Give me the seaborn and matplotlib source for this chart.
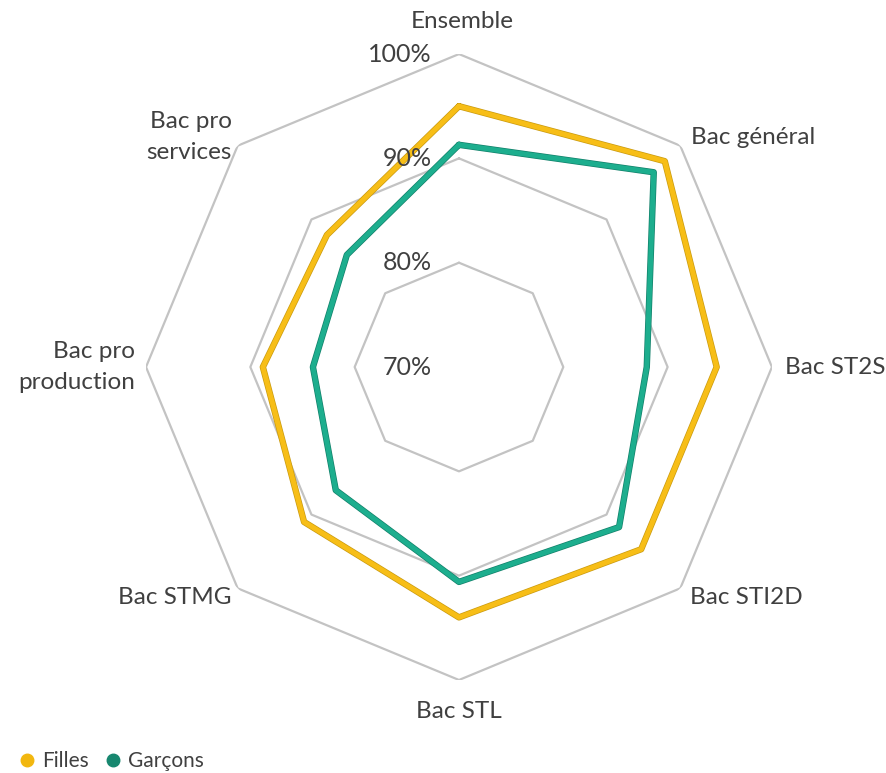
import numpy as np
import pandas as pd
import seaborn as sns
import matplotlib.pyplot as plt
import matplotlib.patheffects as pe
from matplotlib.lines import Line2D

# =========================
# DATA
# =========================
categories = ["Ensemble", "Bac général", "Bac ST2S", "Bac STI2D", "Bac STL",
              "Bac STMG", "Bac pro\nproduction", "Bac pro\nservices"]
filles = [95.0, 97.9, 94.7, 94.7, 94.0, 91.0, 88.8, 87.9]
garcons = [91.3, 96.4, 88.0, 91.7, 90.6, 86.7, 84.0, 85.2]
ring_values = [70, 80, 90, 100]
ring_labels = ["70%", "80%", "90%", "100%"]

series = {"Filles": filles, "Garçons": garcons}
colors = {"Filles": "#F7BE17", "Garçons": "#1DAE8E"}
edges = {"Filles": "#C99A10", "Garçons": "#12806A"}
legend_colors = {"Filles": "#F2B70F", "Garçons": "#17876F"}

# =========================
# LONG TABLE (closed polygons)
# =========================
n = len(categories)
angles = np.linspace(0, 2 * np.pi, n, endpoint=False)
rows = []
for name, vals in series.items():
    for i in range(n + 1):
        rows.append({"theta": angles[i % n] if i < n else 2 * np.pi,
                     "value": vals[i % n], "serie": name, "order": i})
df = pd.DataFrame(rows)

# =========================
# PLOT
# =========================
sns.set_theme(style="white")
plt.rcParams["font.family"] = ["Lato", "DejaVu Sans"]

fig = plt.figure(figsize=(8.87, 7.73), dpi=100)
ax = fig.add_axes([0.1646, 0.1203, 0.7057, 0.8098], projection="polar")
ax.set_theta_zero_location("N")
ax.set_theta_direction(-1)
ax.set_rlim(70, 100)
ax.grid(False)
ax.spines["polar"].set_visible(False)
ax.set_facecolor("none")

# octagonal grid
closed = np.append(angles, 2 * np.pi)
for rv in ring_values:
    ax.plot(closed, [rv] * len(closed), color="#C3C3C3", lw=1.6, zorder=1)

for name in series:
    sub = df[df["serie"] == name]
    sns.lineplot(data=sub, x="theta", y="value", sort=False, ax=ax,
                 color=colors[name], lw=3.6, legend=False, zorder=3,
                 path_effects=[pe.Stroke(linewidth=4.6, foreground=edges[name]),
                               pe.Normal()])
ax.set_xlabel("")
ax.set_ylabel("")
ax.set_xticks([])
ax.set_yticks([])
ax.set_rlim(70, 100)

# radial labels
for rv, lab in zip(ring_values, ring_labels):
    ax.annotate(lab, xy=(0, rv), xytext=(-27, 0), textcoords="offset pixels",
                ha="right", va="center", fontsize=18, color="#404040")

# category labels
offsets = [(3, 33, "center"), (11, 8, "left"), (13, 0, "left"), (10, -9, "left"),
           (0, -32, "center"), (-6, -9, "right"), (-11, 0, "right"), (-6, 9, "right")]
for ang, cat, (dx, dy, ha) in zip(angles, categories, offsets):
    ax.annotate(cat, xy=(ang, 100), xytext=(dx, dy), textcoords="offset pixels",
                ha=ha, va="center", fontsize=17.5, color="#404040",
                linespacing=1.6, annotation_clip=False)

handles = [Line2D([], [], marker="o", ls="", color=legend_colors[k], markersize=9,
                  label=k) for k in series]
fig.legend(handles=handles, loc="lower left", bbox_to_anchor=(0.0, -0.022), ncol=2,
           frameon=False, handlelength=0.8, handletextpad=0.3, columnspacing=0.8,
           fontsize=15, labelcolor="#404040")

plt.savefig("out.png", dpi=100)
plt.close()
